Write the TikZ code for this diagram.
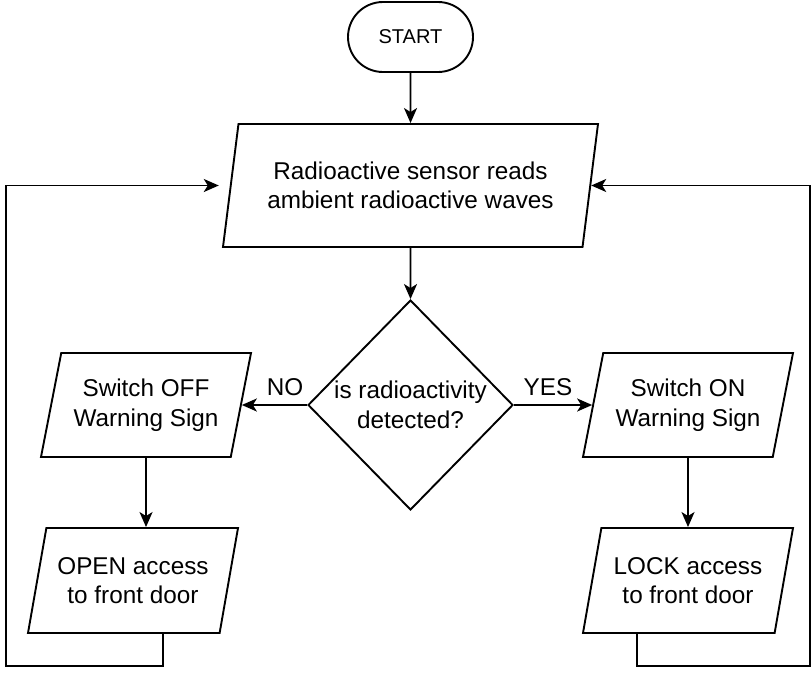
\documentclass[tikz,border=0pt]{standalone}
\usepackage{fontspec}
\setmainfont{Liberation Sans}
\usetikzlibrary{shapes}
\usetikzlibrary{arrows.meta}

\newcommand{\flowfont}{\fontsize{24.3}{29.5}\selectfont}

\tikzset{
	box/.style={draw, line width=1.9pt, align=center, font=\flowfont},
	term/.style={box, rectangle, rounded corners=35pt, minimum width=125pt, minimum height=70pt, font=\fontsize{20}{24}\selectfont},
	io/.style={box, trapezium, trapezium left angle=71, trapezium right angle=109,
		trapezium stretches body=true, inner xsep=-8pt, minimum width=210pt, minimum height=104pt},
	decision/.style={box, diamond, aspect=0.976, inner sep=0pt, minimum width=205pt, minimum height=210pt},
	arr/.style={line width=1.9pt, -{Stealth[length=15pt,width=13pt,inset=4pt]}}
}

\begin{document}
\begin{tikzpicture}[x=1pt, y=-1pt]
	\useasboundingbox (0,0) rectangle (811,675);

	\node[term] (start) at (410.5,37) {START};
	\node[io, minimum width=375pt, minimum height=123pt, trapezium left angle=74, trapezium right angle=106]
	  (read) at (410.5,185.5) {Radioactive sensor reads\\ambient radioactive waves};
	\node[decision] (detect) at (410.5,405) {is radioactivity\\detected?};
	\node[io] (off) at (146,405) {Switch OFF\\Warning Sign};
	\node[io] (on) at (688,405) {Switch ON\\Warning Sign};
	\node[io, minimum height=105pt] (open) at (133,580.5) {OPEN access\\to front door};
	\node[io, minimum height=105pt] (lock) at (688,580.5) {LOCK access\\to front door};
	\node[font=\flowfont] (no) at (285,387) {NO};
	\node[font=\flowfont] (yes) at (548,387) {YES};

	\coordinate (loopL) at (6,666);
	\coordinate (loopR) at (810,666);

	\draw[arr] (start.south) -- (read.north);
	\draw[arr] (read.south) -- (detect.north);
	\draw[arr] (detect.west) -- (off.right side);
	\draw[arr] (detect.east) -- (on.left side);
	\draw[arr] (off.south) -- (off.south |- open.north);
	\draw[arr] (on.south) -- (lock.north);
	% way back to the sensor
	\draw[arr, shorten >=11pt] ([xshift=30pt]open.south) |- (loopL) |- (read.left side);
	\draw[arr] ([xshift=-51pt]lock.south) |- (loopR) |- (read.right side);
\end{tikzpicture}
\end{document}
